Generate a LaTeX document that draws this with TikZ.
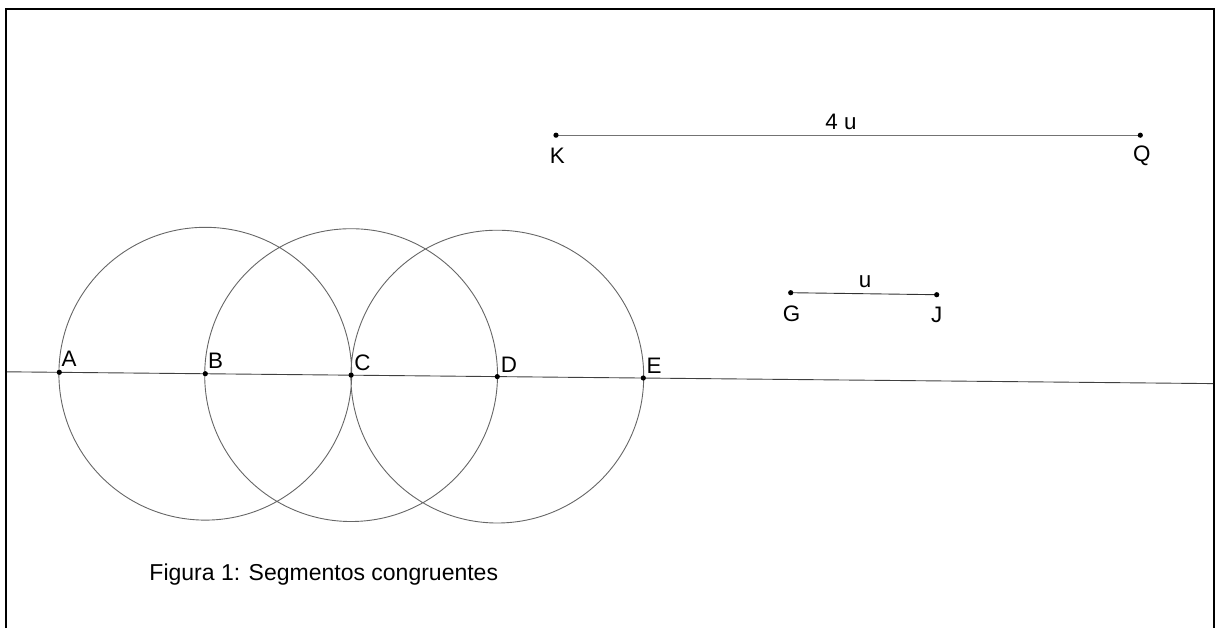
\documentclass[tikz,border=0pt]{standalone}
\usepackage{fontspec}
\setmainfont{Liberation Sans}
\begin{document}
\begin{tikzpicture}[x=0.5pt, y=-0.5pt, line width=0.45pt,
  pto/.style={circle, fill=black, inner sep=0pt, minimum size=2.6pt},
  lbl/.style={font=\fontsize{11.2}{13}\selectfont, inner sep=0pt}]
  \useasboundingbox (0,0) rectangle (1216,628);
  \draw[line width=1.4pt] (6,628) -- (6,9) -- (1214,9) -- (1214,628);
  % puntos sobre la recta
  \coordinate (izq) at (7,371.8);
  \coordinate (der) at (1213,383.6);
  \coordinate (A) at (59.3,372.3);
  \coordinate (B) at (205.3,373.7);
  \coordinate (C) at (351.1,375.1);
  \coordinate (D) at (497.3,376.6);
  \coordinate (E) at (643.3,378);
  \coordinate (K) at (556,135.2);
  \coordinate (Q) at (1140.3,135.2);
  \coordinate (G) at (790.7,292.7);
  \coordinate (J) at (936.7,294.7);
  \draw[black!75] (izq) -- (der);
  \draw[black!60] (B) circle (73.2pt) (C) circle (73.2pt) (D) circle (73.2pt);
  \draw[black!55] (K) -- (Q);
  \draw[black!80] (G) -- (J);
  \foreach \p in {A,B,C,D,E,K,Q,G,J}
    \node[pto] (p\p) at (\p) {};
  \node[lbl] (lA) at (69,359) {A};
  \node[lbl] (lB) at (215.5,360.5) {B};
  \node[lbl] (lC) at (362.5,363) {C};
  \node[lbl] (lD) at (509,364.5) {D};
  \node[lbl] (lE) at (654,366) {E};
  \node[lbl] (lK) at (557.3,156) {K};
  \node[lbl] (lQ) at (1141.7,156) {Q};
  \node[lbl] (lG) at (791.7,313.5) {G};
  \node[lbl] (lJ) at (936.7,314.5) {J};
  \node[lbl] (l4u) at (841,121.5) {4 u};
  \node[lbl] (lu) at (865,282) {u};
  \node[lbl, font=\fontsize{11.5}{13}\selectfont, anchor=base west] (cap) at (149,580.7) {Figura 1: Segmentos congruentes};
\end{tikzpicture}
\end{document}
